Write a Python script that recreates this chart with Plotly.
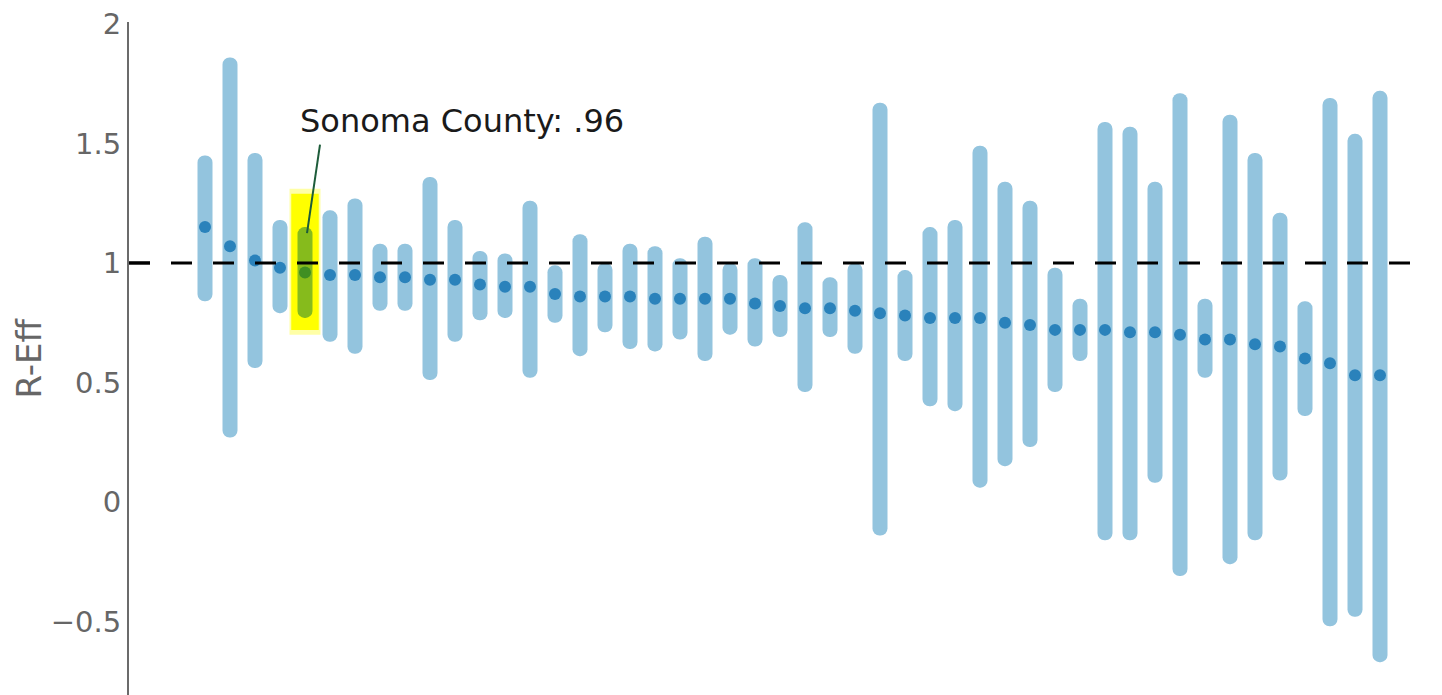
import plotly.graph_objects as go

# ---- data ----
counties = [f"County {i+1}" for i in range(48)]
counties[4] = "Sonoma County"

r_eff = [1.15, 1.07, 1.01, 0.98, 0.96, 0.95, 0.95, 0.94, 0.94, 0.93, 0.93, 0.91,
         0.90, 0.90, 0.87, 0.86, 0.86, 0.86, 0.85, 0.85, 0.85, 0.85, 0.83, 0.82,
         0.81, 0.81, 0.80, 0.79, 0.78, 0.77, 0.77, 0.77, 0.75, 0.74, 0.72, 0.72,
         0.72, 0.71, 0.71, 0.70, 0.68, 0.68, 0.66, 0.65, 0.60, 0.58, 0.53, 0.53]

upper = [1.45, 1.86, 1.46, 1.18, 1.15, 1.22, 1.27, 1.08, 1.08, 1.36, 1.18, 1.05,
         1.04, 1.26, 0.99, 1.12, 1.00, 1.08, 1.07, 1.02, 1.11, 1.00, 1.02, 0.95,
         1.17, 0.94, 1.00, 1.67, 0.97, 1.15, 1.18, 1.49, 1.34, 1.26, 0.98, 0.85,
         1.59, 1.57, 1.34, 1.71, 0.85, 1.62, 1.46, 1.21, 0.84, 1.69, 1.54, 1.72]

lower = [0.84, 0.27, 0.56, 0.79, 0.77, 0.67, 0.62, 0.80, 0.80, 0.51, 0.67, 0.76,
         0.77, 0.52, 0.75, 0.61, 0.71, 0.64, 0.63, 0.68, 0.59, 0.70, 0.65, 0.69,
         0.46, 0.69, 0.62, -0.14, 0.59, 0.40, 0.38, 0.06, 0.15, 0.23, 0.46, 0.59,
         -0.16, -0.16, 0.08, -0.31, 0.52, -0.26, -0.16, 0.09, 0.36, -0.52, -0.48, -0.67]

reference_level = 1.0
y_ticks = [-0.5, 0, 0.5, 1, 1.5, 2]
y_tick_text = ["\u22120.5", "0", "0.5", "1", "1.5", "2"]
y_title = "R-Eff"
highlight = "Sonoma County"
highlight_label = "Sonoma County: .96"

BAR = "#93c4de"
DOT = "#2a82bb"
HL_BAR = "#86bb1c"
HL_DOT = "#3f8f22"

hi_idx = counties.index(highlight)
bar_colors = [HL_BAR if c == highlight else BAR for c in counties]
dot_colors = [HL_DOT if c == highlight else DOT for c in counties]

fig = go.Figure()
fig.add_trace(go.Bar(
    x=list(range(len(counties))),
    y=[u - l for u, l in zip(upper, lower)],
    base=lower,
    width=0.6,
    marker=dict(color=bar_colors, line=dict(width=0), cornerradius=7),
    hovertext=counties, hoverinfo="text",
))
fig.add_trace(go.Scatter(
    x=list(range(len(counties))), y=r_eff, mode="markers",
    marker=dict(size=12, color=dot_colors, line=dict(width=0)),
    hovertext=counties,
))
# reference line at 1, drawn as a trace so it starts at the axis
fig.add_trace(go.Scatter(
    x=[-3.04, 48.72], y=[reference_level, reference_level], mode="lines",
    line=dict(color="black", width=3, dash="21px,21px"), hoverinfo="skip",
))

# yellow highlighter behind Sonoma
fig.add_shape(type="rect", xref="x", yref="y",
              x0=hi_idx - 0.62, x1=hi_idx + 0.62, y0=0.70, y1=1.31,
              fillcolor="rgba(255,255,0,0.35)", line=dict(width=0), layer="below")
fig.add_shape(type="rect", xref="x", yref="y",
              x0=hi_idx - 0.55, x1=hi_idx + 0.55, y0=0.72, y1=1.29,
              fillcolor="#ffff00", line=dict(width=0), layer="below")

# first dash of the reference line, right against the axis (paper coords)
fig.add_shape(type="line", xref="paper", yref="y",
              x0=0.0, x1=21 / 1313, y0=reference_level, y1=reference_level,
              line=dict(color="black", width=3), layer="above")

# annotation leader line + label
fig.add_shape(type="line", xref="x", yref="y",
              x0=hi_idx + 0.08, y0=1.125, x1=hi_idx + 0.6, y1=1.495,
              line=dict(color="#1d5c3a", width=2), layer="above")
fig.add_annotation(x=hi_idx - 0.28, y=1.594, xref="x", yref="y",
                   text=highlight_label, showarrow=False,
                   xanchor="left", yanchor="middle",
                   font=dict(family="DejaVu Sans", size=32, color="#1a1a1a"))

# y-axis title
fig.add_annotation(x=-0.0769, y=0.5, xref="paper", yref="paper",
                   text=y_title, showarrow=False, textangle=-90,
                   xanchor="center", yanchor="middle",
                   font=dict(family="DejaVu Sans", size=34, color="#666666"))

# page body has an 8px margin: compensate so the plot area spans x 129..1442, y 22..695
fig.update_layout(
    width=1434, height=687,
    margin=dict(l=121, r=0, t=14, b=0),
    plot_bgcolor="white", paper_bgcolor="white",
    showlegend=False,
    font=dict(family="DejaVu Sans", color="#666666"),
)
fig.update_xaxes(visible=False, range=[-3.04, 49.48])
fig.update_yaxes(
    range=[-0.8075, 2.008],
    tickvals=y_ticks,
    ticktext=y_tick_text,
    showgrid=False, zeroline=False,
    showline=True, linecolor="#6b6b6b", linewidth=2,
    ticks="", ticklabelstandoff=0, ticklabeloverflow="allow",
    tickfont=dict(family="DejaVu Sans", size=29, color="#666666"),
)

fig.write_html("out.html")
